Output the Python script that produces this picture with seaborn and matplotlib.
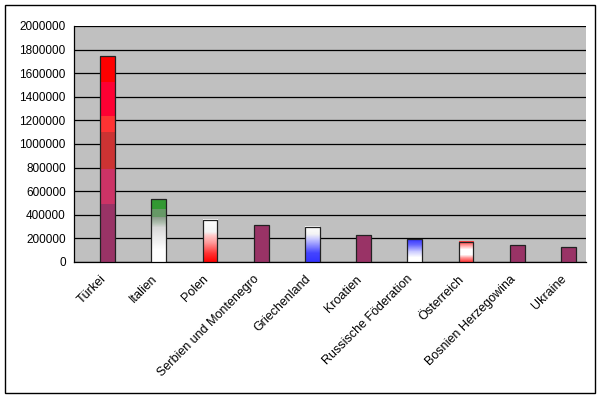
import numpy as np
import pandas as pd
import matplotlib
matplotlib.use('Agg')
import matplotlib.pyplot as plt
import seaborn as sns
from matplotlib.colors import LinearSegmentedColormap
from matplotlib.patches import Rectangle
from matplotlib.ticker import FixedLocator, FuncFormatter
from matplotlib.transforms import ScaledTranslation

# Data
countries = ["Türkei", "Italien", "Polen", "Serbien und Montenegro", "Griechenland",
             "Kroatien", "Russische Föderation", "Österreich", "Bosnien Herzegowina", "Ukraine"]
values = [1745000, 532000, 356000, 317000, 300000, 232000, 193000, 173000, 148000, 131000]
y_ticks = list(range(0, 2000001, 200000))

# Flag-like fills: (position from bottom, colour) stops
PURPLE = "#993366"
fills = {
    "Türkei": [(0, PURPLE), (0.279, PURPLE), (0.279, "#CC3366"), (0.454, "#CC3366"),
               (0.454, "#CC3333"), (0.636, "#CC3333"), (0.636, "#FF3333"), (0.708, "#FF3333"),
               (0.708, "#FF0033"), (0.875, "#FF0033"), (0.875, "#FF0000"), (1, "#FF0000")],
    "Italien": [(0, "#FFFFFF"), (0.2, "#FFFFFF"), (0.55, "#D8D8D8"), (0.62, "#B0C0B0"),
                (0.72, "#889988"), (0.72, "#669966"), (0.85, "#669966"), (0.85, "#339933"), (1, "#339933")],
    "Polen": [(0, "#FF0000"), (0.2, "#FF3333"), (0.45, "#FF9999"), (0.62, "#FFCCCC"),
              (0.7, "#F4F4F4"), (1, "#FFFFFF")],
    "Griechenland": [(0, "#3333FF"), (0.25, "#4444FF"), (0.45, "#8888FF"), (0.65, "#CCCCFF"),
                     (0.78, "#F4F4F4"), (1, "#FFFFFF")],
    "Russische Föderation": [(0, "#FFFFFF"), (0.2, "#FFFFFF"), (0.45, "#CCCCFF"),
                             (0.75, "#6666FF"), (1, "#3333FF")],
    "Österreich": [(0, "#FF3333"), (0.2, "#FF9999"), (0.35, "#FFFFFF"), (0.6, "#FFFFFF"),
                   (0.8, "#FF9999"), (1, "#FF3333")],
}
BAR_OFFSET = 0.155  # excel left room for an empty first series

sns.set_theme(style="white")
plt.rcParams['font.family'] = ['Liberation Sans', 'DejaVu Sans']

df = pd.DataFrame({"Land": countries, "Wert": values})

fig = plt.figure(figsize=(6, 3.98), dpi=100)
ax = fig.add_axes([74 / 600, 1 - 262 / 398, 512 / 600, 236 / 398])
ax.set_facecolor("#C0C0C0")

sns.barplot(data=df, x="Land", y="Wert", color=PURPLE, width=0.29, saturation=1,
            edgecolor="#222222", linewidth=0.9, ax=ax, zorder=3)

# shift bars and paint the flag gradients inside them
for patch, name in zip(ax.patches, countries):
    patch.set_x(patch.get_x() + BAR_OFFSET)
    if name not in fills:
        continue
    cmap = LinearSegmentedColormap.from_list(name, fills[name], N=512)
    img = cmap(np.linspace(0, 1, 256))[:, None, :]
    x0, y0 = patch.get_x(), patch.get_y()
    w, h = patch.get_width(), patch.get_height()
    ax.imshow(img, extent=[x0, x0 + w, y0, y0 + h], origin="lower",
              aspect="auto", interpolation="nearest", zorder=3.5)
    patch.set_facecolor("none")
    patch.set_zorder(4)

ax.set_xlim(-0.5, len(countries) - 0.5)
ax.set_ylim(0, 2000000)
ax.set_yticks(y_ticks)
ax.yaxis.set_major_formatter(FuncFormatter(lambda v, p: f"{int(v)}"))
ax.grid(axis="y", color="black", linewidth=0.9, zorder=1)
ax.set_axisbelow(True)

ax.set_xlabel("")
ax.set_ylabel("")
ax.set_xticks(range(len(countries)))
ax.set_xticklabels(countries, rotation=45, ha="right", rotation_mode="anchor", fontsize=9)
shift = ScaledTranslation(-8 / 100, 0, fig.dpi_scale_trans)
for lbl in ax.get_xticklabels():
    lbl.set_transform(lbl.get_transform() + shift)
ax.xaxis.set_minor_locator(FixedLocator(np.arange(0.5, len(countries), 1)))
ax.tick_params(axis="x", which="major", length=0, pad=8)
ax.tick_params(axis="x", which="minor", length=4, width=0.9, color="black", direction="out")
ax.tick_params(axis="y", length=4, width=0.9, color="black", direction="out", labelsize=8.5, pad=2)
ax.tick_params(axis="both", labelcolor="black")

for side in ["top", "right"]:
    ax.spines[side].set_visible(False)
for side in ["left", "bottom"]:
    ax.spines[side].set_color("black")
    ax.spines[side].set_linewidth(0.9)

fig.patches.append(Rectangle((5 / 600, 5 / 398), 590 / 600, 388 / 398, transform=fig.transFigure,
                             fill=False, edgecolor="black", linewidth=1))

fig.savefig("out.png", dpi=100, facecolor="white")
